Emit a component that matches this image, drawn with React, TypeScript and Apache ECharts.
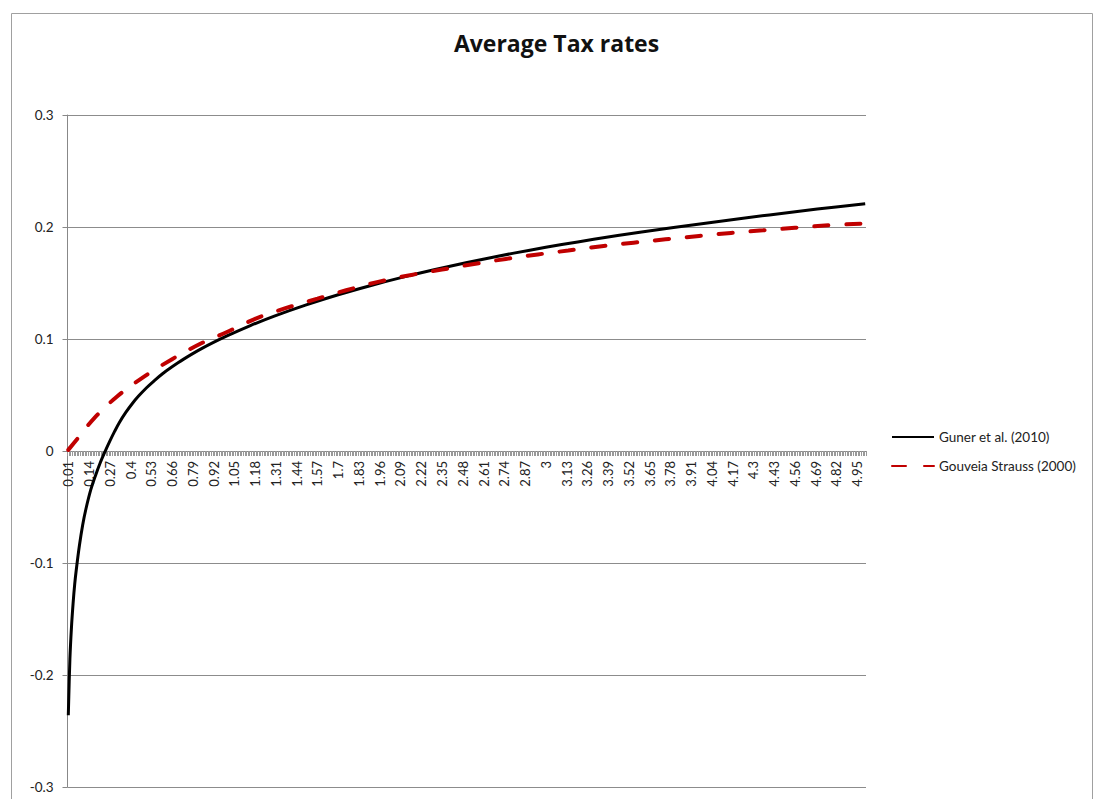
import React, { useEffect, useRef } from "react";
import * as echarts from "echarts";

// Income levels (multiples of mean income) shown on the category axis: 0.01 .. 5.00
const STEP_COUNT = 500;
const fmtIncome = (v: number) => String(parseFloat(v.toFixed(2)));
const categories: string[] = Array.from({ length: STEP_COUNT }, (_, k) => fmtIncome((k + 1) / 100));

// Guner et al. (2010) average tax rate, sampled at these income levels
const gunerIncome = [
  0.01, 0.02, 0.03, 0.04, 0.05, 0.06, 0.08, 0.1, 0.12, 0.15, 0.18, 0.21, 0.24, 0.27,
  0.3, 0.33, 0.37, 0.41, 0.45, 0.5, 0.55, 0.6, 0.66, 0.73, 0.85, 1.0, 1.15, 1.3, 1.5,
  1.7, 1.9, 2.1, 2.3, 2.5, 2.7, 2.9, 3.1, 3.3, 3.6, 4.0, 4.4, 4.7, 5.0,
];
const gunerRate = [
  -0.236, -0.186, -0.157, -0.136, -0.119, -0.106, -0.084, -0.066, -0.052, -0.035, -0.022,
  -0.0105, -0.0005, 0.0088, 0.0175, 0.0255, 0.0345, 0.0422, 0.049, 0.0565, 0.063, 0.069,
  0.0752, 0.0818, 0.0918, 0.1025, 0.112, 0.1205, 0.1305, 0.1395, 0.1476, 0.155, 0.1618,
  0.1681, 0.1739, 0.1793, 0.1843, 0.189, 0.1955, 0.2034, 0.2108, 0.216, 0.2208,
];

// Gouveia Strauss (2000) average tax rate
const gouveiaIncome = [
  0.01, 0.07, 0.17, 0.31, 0.48, 0.66, 0.84, 1.0, 1.18, 1.37, 1.57, 1.75, 1.95, 2.15,
  2.35, 2.55, 2.75, 2.95, 3.14, 3.35, 3.55, 3.75, 3.96, 4.16, 4.36, 4.56, 4.77, 5.0,
];
const gouveiaRate = [
  0.001, 0.0115, 0.029, 0.048, 0.066, 0.082, 0.096, 0.106, 0.118, 0.1275, 0.136, 0.1435,
  0.151, 0.157, 0.162, 0.167, 0.1715, 0.1755, 0.179, 0.1828, 0.186, 0.189, 0.192, 0.1947,
  0.197, 0.1993, 0.2015, 0.2032,
];

const yTicks = { min: -0.3, max: 0.3, interval: 0.1 };
const FONT = "Lato, 'Open Sans', sans-serif";

// plot box
const PLOT = { left: 67.5, top: 115, width: 798.5, height: 672 };
// the category axis sits on the zero line of the rate axis
const zeroOffset = -(PLOT.height * (0 - yTicks.min)) / (yTicks.max - yTicks.min);

const pairs = (xs: number[], ys: number[]) => xs.map((x, i) => [fmtIncome(x), ys[i]]);

export default function App() {
  const ref = useRef<HTMLDivElement>(null);

  useEffect(() => {
    if (!ref.current) return;
    const chart = echarts.init(ref.current, undefined, { renderer: "svg" });
    chart.setOption({
      animation: false,
      backgroundColor: "#ffffff",
      textStyle: { fontFamily: FONT },
      graphic: [
        {
          type: "rect",
          shape: { x: 11.5, y: 13.5, width: 1081, height: 800 },
          style: { fill: "none", stroke: "#a0a0a0", lineWidth: 1 },
          silent: true,
        },
        {
          type: "text",
          x: 556.5,
          y: 43,
          style: {
            text: "Average Tax rates",
            fontFamily: "'Open Sans', sans-serif",
            fontWeight: "bold",
            fontSize: 23,
            fill: "#111",
            align: "center",
            verticalAlign: "middle",
          },
        },
      ],
      legend: {
        orient: "vertical",
        left: 886,
        top: 425,
        itemWidth: 42,
        itemHeight: 14,
        itemGap: 15,
        itemStyle: { opacity: 0 },
        textStyle: { fontFamily: FONT, fontSize: 13.5, color: "#222" },
        data: ["Guner et al. (2010)", "Gouveia Strauss (2000)"],
      },
      grid: { ...PLOT, outerBoundsMode: "none", containLabel: false },
      xAxis: {
        type: "category",
        data: categories,
        boundaryGap: true,
        offset: zeroOffset,
        axisLine: { onZero: false, lineStyle: { color: "#888", width: 1 } },
        axisTick: { show: true, interval: 0, length: 5, lineStyle: { color: "#999", width: 1 } },
        axisLabel: {
          interval: 12,
          rotate: 90,
          margin: 10,
          fontFamily: FONT,
          fontSize: 13,
          color: "#222",
        },
        splitLine: { show: false },
      },
      yAxis: {
        type: "value",
        min: yTicks.min,
        max: yTicks.max,
        interval: yTicks.interval,
        axisLine: { show: true, lineStyle: { color: "#888", width: 1 } },
        axisTick: { show: true, length: 5, lineStyle: { color: "#888" } },
        axisLabel: {
          margin: 14,
          fontFamily: FONT,
          fontSize: 13.5,
          color: "#222",
          formatter: (v: number) => String(Math.round(v * 10) / 10),
        },
        splitLine: { show: true, lineStyle: { color: "#8c8c8c", width: 1 } },
      },
      series: [
        {
          name: "Guner et al. (2010)",
          type: "line",
          data: pairs(gunerIncome, gunerRate),
          smooth: 0.35,
          symbol: "none",
          lineStyle: { color: "#000000", width: 3 },
          itemStyle: { color: "#000000" },
        },
        {
          name: "Gouveia Strauss (2000)",
          type: "line",
          data: pairs(gouveiaIncome, gouveiaRate),
          smooth: 0.35,
          symbol: "none",
          lineStyle: { color: "#c00000", width: 4, type: [14, 18], cap: "round" },
          itemStyle: { color: "#c00000" },
        },
      ],
    });
    return () => chart.dispose();
  }, []);

  return (
    <div
      ref={ref}
      style={{ position: "fixed", left: 0, top: 0, width: 1095, height: 799 }}
    />
  );
}
